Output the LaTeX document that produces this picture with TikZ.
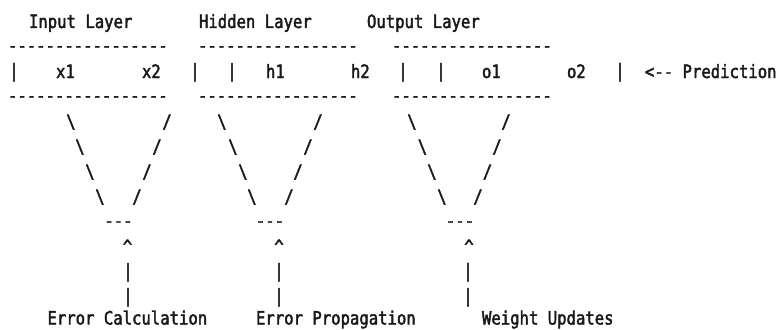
\documentclass[tikz,border=0pt]{standalone}
\usepackage{fontspec}
\newfontfamily\asciimono[FakeStretch=0.853,FakeBold=2.2]{DejaVu Sans Mono}
\begin{document}
\begin{tikzpicture}[x=1pt,y=-1pt,
  every node/.style={inner sep=0pt, outer sep=0pt, text=black!90,
    font=\asciimono\fontsize{18.3}{18.3}\selectfont},
  tw/.style={anchor=base west},
  tc/.style={anchor=base}]
\useasboundingbox (0,0) rectangle (778,329);
% headings (line 0)
\node[tw] (hin)  at (29,28)  {Input Layer};
\node[tw] (hhid) at (199,28) {Hidden Layer};
\node[tw] (hout) at (367,28) {Output Layer};
% dash runs (lines 1 and 3)
\node[tw] (ta) at (8,52)   {-----------------};
\node[tw] (tb) at (198,52) {-----------------};
\node[tw] (tc) at (392,52) {-----------------};
\node[tw] (ba) at (8,102)   {-----------------};
\node[tw] (bb) at (198,102) {-----------------};
\node[tw] (bc) at (392,102) {-----------------};
% layer row (line 2)
\node[tc] (p1) at (14,77)  {|};
\node[tw] (x1) at (56,78)  {x1};
\node[tw] (x2) at (142,78) {x2};
\node[tc] (p2) at (195,77) {|};
\node[tc] (p3) at (232,77) {|};
\node[tw] (h1) at (266,78) {h1};
\node[tw] (h2) at (351,78) {h2};
\node[tc] (p4) at (403,77) {|};
\node[tc] (p5) at (441,77) {|};
\node[tw] (o1) at (482,78) {o1};
\node[tw] (o2) at (567,78) {o2};
\node[tc] (p6) at (620,77) {|};
\node[tw] (pred) at (645,78) {<-- Prediction};
% V 1
\node[tc] (aL4) at (71,128)  {\textbackslash};
\node[tc] (aL5) at (80,153)  {\textbackslash};
\node[tc] (aL6) at (90,178)  {\textbackslash};
\node[tc] (aL7) at (100,203) {\textbackslash};
\node[tc] (aR4) at (167,128) {/};
\node[tc] (aR5) at (157,153) {/};
\node[tc] (aR6) at (147,178) {/};
\node[tc] (aR7) at (137,203) {/};
\node[tc] (aB)  at (118.5,227) {---};
\node[tc] (aC)  at (127.5,253) {\^{}};
\node[tc] (aP1) at (128,277) {|};
\node[tc] (aP2) at (128,302) {|};
% V 2
\node[tc] (bL4) at (222,128) {\textbackslash};
\node[tc] (bL5) at (233,153) {\textbackslash};
\node[tc] (bL6) at (243,178) {\textbackslash};
\node[tc] (bL7) at (252,203) {\textbackslash};
\node[tc] (bR4) at (318,128) {/};
\node[tc] (bR5) at (308,153) {/};
\node[tc] (bR6) at (298,178) {/};
\node[tc] (bR7) at (289,203) {/};
\node[tc] (bB)  at (270,227) {---};
\node[tc] (bC)  at (279,253) {\^{}};
\node[tc] (bP1) at (279,277) {|};
\node[tc] (bP2) at (279,302) {|};
% V 3
\node[tc] (cL4) at (412,128) {\textbackslash};
\node[tc] (cL5) at (422.5,153) {\textbackslash};
\node[tc] (cL6) at (432,178) {\textbackslash};
\node[tc] (cL7) at (442,203) {\textbackslash};
\node[tc] (cR4) at (506,128) {/};
\node[tc] (cR5) at (497,153) {/};
\node[tc] (cR6) at (487.5,178) {/};
\node[tc] (cR7) at (478,203) {/};
\node[tc] (cB)  at (460,227) {---};
\node[tc] (cC)  at (469,253) {\^{}};
\node[tc] (cP1) at (468,277) {|};
\node[tc] (cP2) at (468,302) {|};
% labels (line 12)
\node[tw] (lcalc) at (47.5,324.5) {Error Calculation};
\node[tw] (lprop) at (256,324.5)  {Error Propagation};
\node[tw] (lupd)  at (482,324.5)  {Weight Updates};
\end{tikzpicture}
\end{document}
